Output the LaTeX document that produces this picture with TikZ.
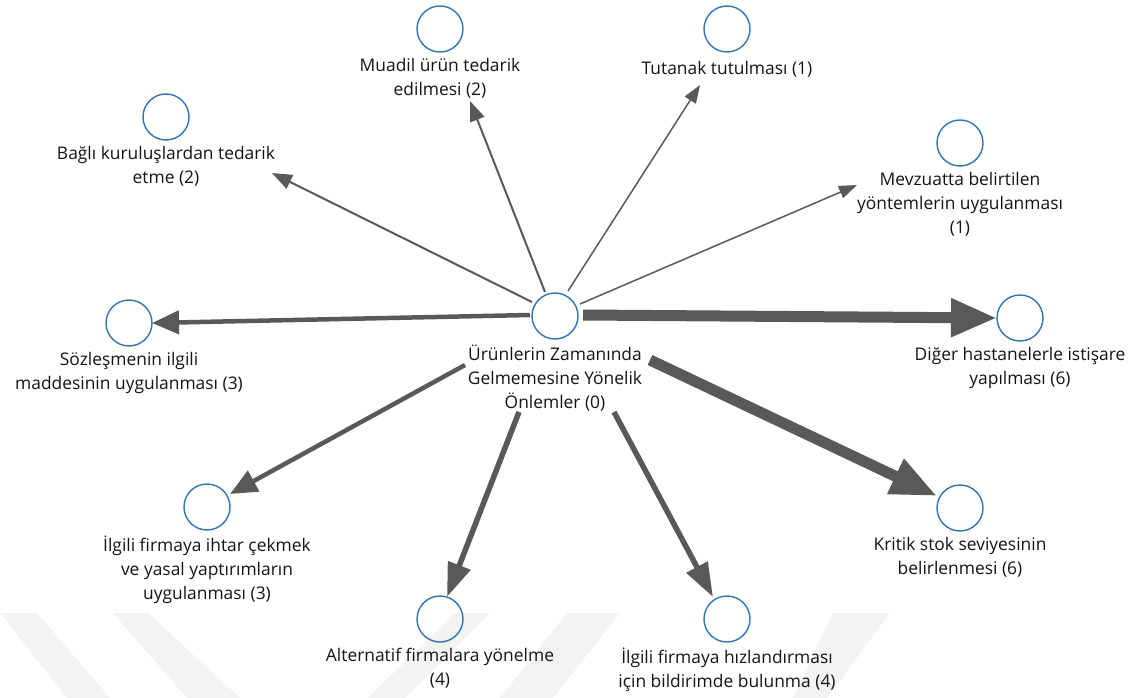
\documentclass[tikz,border=0pt]{standalone}
\usepackage{fontspec}
\setmainfont{Open Sans}
\usetikzlibrary{arrows.meta}
\definecolor{nodeblue}{HTML}{2E75B6}
\definecolor{edgegray}{HTML}{595959}
\definecolor{markgray}{HTML}{F3F3F3}
\definecolor{txt}{HTML}{141414}
\begin{document}
\begin{tikzpicture}[x=1pt,y=-1pt,
  dot/.style={circle,draw=nodeblue,line width=1.4pt,minimum size=46pt,inner sep=0pt},
  lbl/.style={anchor=north,align=center,inner sep=0pt,yshift=-5pt,text=txt,
    font=\fontsize{17.4}{24}\selectfont,execute at begin node=\strut},
  conn/.style={draw=edgegray,line cap=butt},
  w1/.style={conn,line width=1.5pt,-{Triangle[length=18pt,width=13pt]}},
  w2/.style={conn,line width=2pt,-{Triangle[length=20pt,width=15pt]}},
  w3/.style={conn,line width=4.5pt,-{Triangle[length=27pt,width=23pt]}},
  w4/.style={conn,line width=5.5pt,-{Triangle[length=34pt,width=23pt]}},
  w6/.style={conn,line width=11pt,-{Triangle[length=46pt,width=36pt]}},
  stripe/.style={fill=markgray,draw=none}
]
\useasboundingbox (0,0) rectangle (1138,698);

% faint background stripes
\fill[stripe] (0,613) -- (37,613) -- (110,698) -- (67,698) -- cycle;
\fill[stripe] (113,613) -- (148,613) -- (240,698) -- (187,698) -- cycle;
\fill[stripe] (455,613) -- (490,613) -- (405,698) -- (368,698) -- cycle;
\fill[stripe] (567,613) -- (620,613) -- (553,698) -- (500,698) -- cycle;
\fill[stripe] (833,613) -- (890,613) -- (827,698) -- (793,698) -- cycle;

% central node
\node[dot] (c) at (555,316) {};
\node[lbl] (cL) at (c.south) {Ürünlerin Zamanında\\Gelmemesine Yönelik\\Önlemler (0)};

% surrounding nodes
\node[dot] (m) at (440,29) {};
\node[lbl] (mL) at (m.south) {Muadil ürün tedarik\\edilmesi (2)};
\node[dot] (t) at (727,29) {};
\node[lbl] (tL) at (t.south) {Tutanak tutulması (1)};
\node[dot] (b) at (166,117) {};
\node[lbl] (bL) at (b.south) {Bağlı kuruluşlardan tedarik\\etme (2)};
\node[dot] (v) at (960,143) {};
\node[lbl] (vL) at (v.south) {Mevzuatta belirtilen\\yöntemlerin uygulanması\\(1)};
\node[dot] (s) at (129,323) {};
\node[lbl] (sL) at (s.south) {Sözleşmenin ilgili\\maddesinin uygulanması (3)};
\node[dot] (d) at (1020,318) {};
\node[lbl] (dL) at (d.south) {Diğer hastanelerle istişare\\yapılması (6)};
\node[dot] (i) at (207,507) {};
\node[lbl] (iL) at (i.south) {İlgili firmaya ihtar çekmek\\ve yasal yaptırımların\\uygulanması (3)};
\node[dot] (k) at (960,508) {};
\node[lbl] (kL) at (k.south) {Kritik stok seviyesinin\\belirlenmesi (6)};
\node[dot] (a) at (440,619) {};
\node[lbl] (aL) at (a.south) {Alternatif firmalara yönelme\\(4)};
\node[dot] (h) at (727,619) {};
\node[lbl] (hL) at (h.south) {İlgili firmaya hızlandırması\\için bildirimde bulunma (4)};

% connectors, weighted by frequency
\draw[w2] ([shift={(-23,-14)}]c.center) -- ([shift={(106,56)}]b.center);
\draw[w2] ([shift={(-10,-24)}]c.center) -- ([shift={(30,72)}]m.center);
\draw[w1] ([shift={(13,-25)}]c.center) -- ([shift={(-27,56)}]t.center);
\draw[w1] ([shift={(25,-12)}]c.center) -- ([shift={(-103,42)}]v.center);
\draw[w3] ([shift={(-25,-1)}]c.center) -- ([shift={(23,0)}]s.center);
\draw[w6] ([shift={(28,-1)}]c.center) -- ([shift={(-23,0)}]d.center);
\draw[w6] ([shift={(95,44)}]c.center) -- ([shift={(-23,-12)}]k.center);
\draw[w3] ([shift={(-90,49)}]c.center) -- ([shift={(23,-13)}]i.center);
\draw[w4] ([shift={(-36,96)}]c.center) -- ([shift={(7,-22)}]a.center);
\draw[w4] ([shift={(59,96)}]c.center) -- ([shift={(-14,-22)}]h.center);
\end{tikzpicture}
\end{document}
